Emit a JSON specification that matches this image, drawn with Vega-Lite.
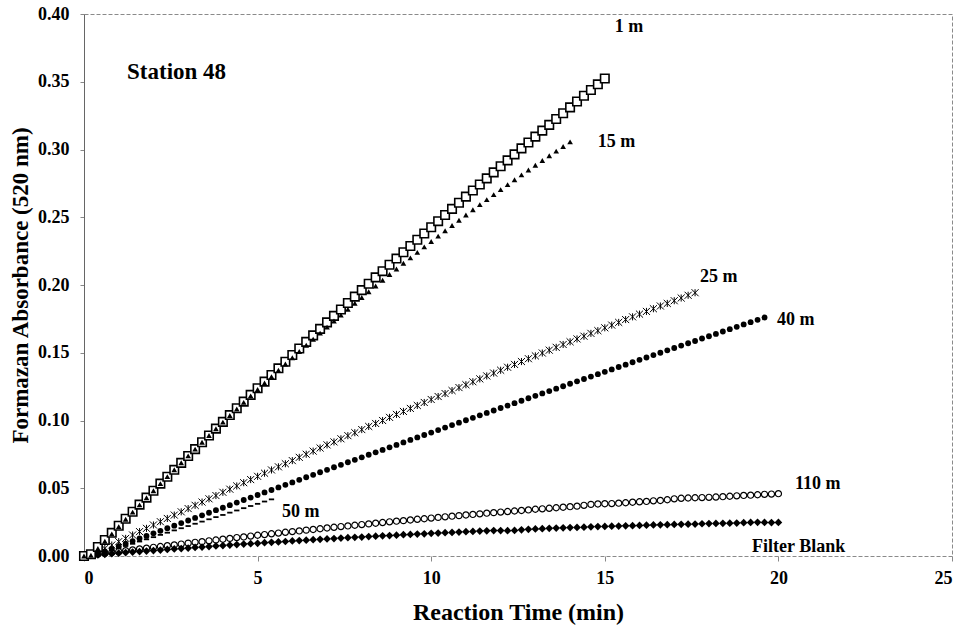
{
  "$schema": "https://vega.github.io/schema/vega-lite/v6.json",
  "width": 868,
  "height": 542,
  "autosize": {"type": "none"},
  "padding": {"left": 84, "top": 14, "right": 19, "bottom": 76},
  "background": "white",
  "config": {
    "view": {"stroke": "#8a8a8a", "strokeDash": [4, 2], "strokeWidth": 1},
    "axis": {"labelFont": "Liberation Serif", "labelFontWeight": "bold", "labelColor": "black", "titleFont": "Liberation Serif", "titleFontWeight": "bold", "titleColor": "black", "grid": false, "tickColor": "#888", "domainColor": "#888"}
  },
  "encoding": {
    "x": {"field": "t", "type": "quantitative", "scale": {"domain": [0, 25], "nice": false, "zero": false},
      "axis": {"title": "Reaction Time (min)", "values": [0, 5, 10, 15, 20, 25], "format": "d", "labelFontSize": 18, "tickSize": 5, "labelPadding": 8, "domain": false, "titleFontSize": 24, "titleX": 434, "titleY": 44, "titleBaseline": "top"}},
    "y": {"field": "v", "type": "quantitative", "scale": {"domain": [0, 0.4], "nice": false, "zero": false},
      "axis": {"title": "Formazan Absorbance (520 nm)", "values": [0, 0.05, 0.1, 0.15, 0.2, 0.25, 0.3, 0.35, 0.4], "format": ".2f", "labelFontSize": 18, "tickSize": 4, "labelPadding": 11, "domain": true, "domainColor": "#666", "titleFontSize": 23, "titleX": -52, "titleY": 271, "titleBaseline": "bottom", "titleAngle": -90}}
  },
  "layer": [
    {
      "data": {"values": [
        {"t":0,"v":0},{"t":0.2,"v":0.0007},{"t":0.4,"v":0.0013},{"t":0.6,"v":0.002},{"t":0.8,"v":0.0026},{"t":1,"v":0.0033},{"t":1.2,"v":0.0039},{"t":1.4,"v":0.0045},{"t":1.6,"v":0.0052},{"t":1.8,"v":0.0058},
        {"t":2,"v":0.0064},{"t":2.2,"v":0.007},{"t":2.4,"v":0.0076},{"t":2.6,"v":0.0082},{"t":2.8,"v":0.0088},{"t":3,"v":0.0095},{"t":3.2,"v":0.0101},{"t":3.4,"v":0.0106},{"t":3.6,"v":0.0112},{"t":3.8,"v":0.0118},
        {"t":4,"v":0.0124},{"t":4.2,"v":0.013},{"t":4.4,"v":0.0136},{"t":4.6,"v":0.0141},{"t":4.8,"v":0.0147},{"t":5,"v":0.0153},{"t":5.2,"v":0.0158},{"t":5.4,"v":0.0164},{"t":5.6,"v":0.0169},{"t":5.8,"v":0.0175},
        {"t":6,"v":0.018},{"t":6.2,"v":0.0185},{"t":6.4,"v":0.0191},{"t":6.6,"v":0.0196},{"t":6.8,"v":0.0201},{"t":7,"v":0.0207},{"t":7.2,"v":0.0212},{"t":7.4,"v":0.0217},{"t":7.6,"v":0.0222},{"t":7.8,"v":0.0227},
        {"t":8,"v":0.0232},{"t":8.2,"v":0.0237},{"t":8.4,"v":0.0242},{"t":8.6,"v":0.0247},{"t":8.8,"v":0.0252},{"t":9,"v":0.0257},{"t":9.2,"v":0.0261},{"t":9.4,"v":0.0266},{"t":9.6,"v":0.0271},{"t":9.8,"v":0.0275},
        {"t":10,"v":0.028},{"t":10.2,"v":0.0285},{"t":10.4,"v":0.0289},{"t":10.6,"v":0.0294},{"t":10.8,"v":0.0298},{"t":11,"v":0.0303},{"t":11.2,"v":0.0307},{"t":11.4,"v":0.0311},{"t":11.6,"v":0.0316},{"t":11.8,"v":0.032},
        {"t":12,"v":0.0324},{"t":12.2,"v":0.0328},{"t":12.4,"v":0.0332},{"t":12.6,"v":0.0336},{"t":12.8,"v":0.034},{"t":13,"v":0.0345},{"t":13.2,"v":0.0348},{"t":13.4,"v":0.0352},{"t":13.6,"v":0.0356},{"t":13.8,"v":0.036},
        {"t":14,"v":0.0364},{"t":14.2,"v":0.0368},{"t":14.4,"v":0.0374},{"t":14.6,"v":0.0381},{"t":14.8,"v":0.0384},{"t":15,"v":0.0386},{"t":15.2,"v":0.0387},{"t":15.4,"v":0.039},{"t":15.6,"v":0.0393},{"t":15.8,"v":0.0397},
        {"t":16,"v":0.04},{"t":16.2,"v":0.0403},{"t":16.4,"v":0.0407},{"t":16.6,"v":0.041},{"t":16.8,"v":0.0415},{"t":17,"v":0.0422},{"t":17.2,"v":0.0426},{"t":17.4,"v":0.0428},{"t":17.6,"v":0.043},{"t":17.8,"v":0.0431},
        {"t":18,"v":0.0433},{"t":18.2,"v":0.0435},{"t":18.4,"v":0.0438},{"t":18.6,"v":0.0441},{"t":18.8,"v":0.0444},{"t":19,"v":0.0447},{"t":19.2,"v":0.0449},{"t":19.4,"v":0.0452},{"t":19.6,"v":0.0455},{"t":19.8,"v":0.0457},{"t":20,"v":0.046}
      ]},
      "mark": {"type": "point", "shape": "circle", "size": 38, "fill": "white", "stroke": "black", "strokeWidth": 1.2, "opacity": 1}
    },
    {
      "data": {"values": [
        {"t":0,"v":0},{"t":0.2,"v":0.0004},{"t":0.4,"v":0.0008},{"t":0.6,"v":0.0012},{"t":0.8,"v":0.0017},{"t":1,"v":0.0021},{"t":1.2,"v":0.0025},{"t":1.4,"v":0.0029},{"t":1.6,"v":0.0033},{"t":1.8,"v":0.0036},
        {"t":2,"v":0.004},{"t":2.2,"v":0.0044},{"t":2.4,"v":0.0048},{"t":2.6,"v":0.0052},{"t":2.8,"v":0.0055},{"t":3,"v":0.0059},{"t":3.2,"v":0.0063},{"t":3.4,"v":0.0066},{"t":3.6,"v":0.007},{"t":3.8,"v":0.0074},
        {"t":4,"v":0.0077},{"t":4.2,"v":0.0081},{"t":4.4,"v":0.0084},{"t":4.6,"v":0.0088},{"t":4.8,"v":0.0091},{"t":5,"v":0.0094},{"t":5.2,"v":0.0098},{"t":5.4,"v":0.0101},{"t":5.6,"v":0.0104},{"t":5.8,"v":0.0107},
        {"t":6,"v":0.0111},{"t":6.2,"v":0.0114},{"t":6.4,"v":0.0117},{"t":6.6,"v":0.012},{"t":6.8,"v":0.0123},{"t":7,"v":0.0126},{"t":7.2,"v":0.0129},{"t":7.4,"v":0.0132},{"t":7.6,"v":0.0135},{"t":7.8,"v":0.0138},
        {"t":8,"v":0.014},{"t":8.2,"v":0.0143},{"t":8.4,"v":0.0146},{"t":8.6,"v":0.0149},{"t":8.8,"v":0.0151},{"t":9,"v":0.0154},{"t":9.2,"v":0.0157},{"t":9.4,"v":0.0159},{"t":9.6,"v":0.0162},{"t":9.8,"v":0.0164},
        {"t":10,"v":0.0167},{"t":10.2,"v":0.0169},{"t":10.4,"v":0.0172},{"t":10.6,"v":0.0174},{"t":10.8,"v":0.0177},{"t":11,"v":0.0179},{"t":11.2,"v":0.0181},{"t":11.4,"v":0.0184},{"t":11.6,"v":0.0186},{"t":11.8,"v":0.0188},
        {"t":12,"v":0.0188},{"t":12.2,"v":0.0187},{"t":12.4,"v":0.0189},{"t":12.6,"v":0.0193},{"t":12.8,"v":0.0197},{"t":13,"v":0.02},{"t":13.2,"v":0.0202},{"t":13.4,"v":0.0204},{"t":13.6,"v":0.0206},{"t":13.8,"v":0.0208},
        {"t":14,"v":0.021},{"t":14.2,"v":0.0211},{"t":14.4,"v":0.0213},{"t":14.6,"v":0.0215},{"t":14.8,"v":0.0217},{"t":15,"v":0.0218},{"t":15.2,"v":0.022},{"t":15.4,"v":0.0221},{"t":15.6,"v":0.0223},{"t":15.8,"v":0.0224},
        {"t":16,"v":0.0226},{"t":16.2,"v":0.0227},{"t":16.4,"v":0.0229},{"t":16.6,"v":0.023},{"t":16.8,"v":0.0231},{"t":17,"v":0.0233},{"t":17.2,"v":0.0234},{"t":17.4,"v":0.0235},{"t":17.6,"v":0.0236},{"t":17.8,"v":0.0238},
        {"t":18,"v":0.0239},{"t":18.2,"v":0.024},{"t":18.4,"v":0.0241},{"t":18.6,"v":0.0242},{"t":18.8,"v":0.0243},{"t":19,"v":0.0246},{"t":19.2,"v":0.0248},{"t":19.4,"v":0.0249},{"t":19.6,"v":0.0248},{"t":19.8,"v":0.0247},{"t":20,"v":0.0248}
      ]},
      "mark": {"type": "point", "shape": "diamond", "size": 60, "filled": true, "color": "black", "opacity": 1}
    },
    {
      "data": {"values": [
        {"t":0,"v":0},{"t":0.2,"v":0},{"t":0.4,"v":0.0008},{"t":0.6,"v":0.0025},{"t":0.8,"v":0.0041},{"t":1,"v":0.0057},{"t":1.2,"v":0.0074},{"t":1.4,"v":0.009},{"t":1.6,"v":0.0107},{"t":1.8,"v":0.0123},
        {"t":2,"v":0.0139},{"t":2.2,"v":0.0156},{"t":2.4,"v":0.0172},{"t":2.6,"v":0.0189},{"t":2.8,"v":0.0205},{"t":3,"v":0.0221},{"t":3.2,"v":0.0238},{"t":3.4,"v":0.0254},{"t":3.6,"v":0.0271},{"t":3.8,"v":0.0287},
        {"t":4,"v":0.0303},{"t":4.2,"v":0.032},{"t":4.4,"v":0.0336},{"t":4.6,"v":0.0353},{"t":4.8,"v":0.0369},{"t":5,"v":0.0385},{"t":5.2,"v":0.0402},{"t":5.4,"v":0.0418}
      ]},
      "mark": {"type": "point", "shape": "M-1,0L1,0", "size": 28, "filled": false, "stroke": "black", "strokeWidth": 1.8, "opacity": 1}
    },
    {
      "data": {"values": [
        {"t":0,"v":0},{"t":0.2,"v":0.0002},{"t":0.4,"v":0.0014},{"t":0.6,"v":0.0034},{"t":0.8,"v":0.0053},{"t":1,"v":0.0072},{"t":1.2,"v":0.0091},{"t":1.4,"v":0.011},{"t":1.6,"v":0.0129},{"t":1.8,"v":0.0148},
        {"t":2,"v":0.0167},{"t":2.2,"v":0.0186},{"t":2.4,"v":0.0205},{"t":2.6,"v":0.0224},{"t":2.8,"v":0.0243},{"t":3,"v":0.0262},{"t":3.2,"v":0.0281},{"t":3.4,"v":0.03},{"t":3.6,"v":0.0319},{"t":3.8,"v":0.0338},
        {"t":4,"v":0.0356},{"t":4.2,"v":0.0375},{"t":4.4,"v":0.0394},{"t":4.6,"v":0.0413},{"t":4.8,"v":0.0431},{"t":5,"v":0.045},{"t":5.2,"v":0.0469},{"t":5.4,"v":0.0487},{"t":5.6,"v":0.0506},{"t":5.8,"v":0.0525},
        {"t":6,"v":0.0543},{"t":6.2,"v":0.0562},{"t":6.4,"v":0.0581},{"t":6.6,"v":0.0599},{"t":6.8,"v":0.0618},{"t":7,"v":0.0636},{"t":7.2,"v":0.0655},{"t":7.4,"v":0.0673},{"t":7.6,"v":0.0692},{"t":7.8,"v":0.071},
        {"t":8,"v":0.0728},{"t":8.2,"v":0.0747},{"t":8.4,"v":0.0765},{"t":8.6,"v":0.0783},{"t":8.8,"v":0.0802},{"t":9,"v":0.082},{"t":9.2,"v":0.0838},{"t":9.4,"v":0.0857},{"t":9.6,"v":0.0875},{"t":9.8,"v":0.0893},
        {"t":10,"v":0.0911},{"t":10.2,"v":0.0929},{"t":10.4,"v":0.0948},{"t":10.6,"v":0.0966},{"t":10.8,"v":0.0984},{"t":11,"v":0.1002},{"t":11.2,"v":0.102},{"t":11.4,"v":0.1038},{"t":11.6,"v":0.1056},{"t":11.8,"v":0.1074},
        {"t":12,"v":0.1092},{"t":12.2,"v":0.111},{"t":12.4,"v":0.1128},{"t":12.6,"v":0.1146},{"t":12.8,"v":0.1164},{"t":13,"v":0.1182},{"t":13.2,"v":0.12},{"t":13.4,"v":0.1217},{"t":13.6,"v":0.1235},{"t":13.8,"v":0.1253},
        {"t":14,"v":0.1271},{"t":14.2,"v":0.1289},{"t":14.4,"v":0.1306},{"t":14.6,"v":0.1324},{"t":14.8,"v":0.1342},{"t":15,"v":0.1359},{"t":15.2,"v":0.1377},{"t":15.4,"v":0.1395},{"t":15.6,"v":0.1412},{"t":15.8,"v":0.143},
        {"t":16,"v":0.1448},{"t":16.2,"v":0.1465},{"t":16.4,"v":0.1483},{"t":16.6,"v":0.15},{"t":16.8,"v":0.1518},{"t":17,"v":0.1535},{"t":17.2,"v":0.1553},{"t":17.4,"v":0.157},{"t":17.6,"v":0.1587},{"t":17.8,"v":0.1605},
        {"t":18,"v":0.1622},{"t":18.2,"v":0.1639},{"t":18.4,"v":0.1657},{"t":18.6,"v":0.1674},{"t":18.8,"v":0.1691},{"t":19,"v":0.1709},{"t":19.2,"v":0.1726},{"t":19.4,"v":0.1743},{"t":19.6,"v":0.176}
      ]},
      "mark": {"type": "point", "shape": "circle", "size": 34, "filled": true, "color": "black", "opacity": 1}
    },
    {
      "data": {"values": [
        {"t":0,"v":0},{"t":0.2,"v":0.0006},{"t":0.4,"v":0.0031},{"t":0.6,"v":0.0056},{"t":0.8,"v":0.0081},{"t":1,"v":0.0106},{"t":1.2,"v":0.013},{"t":1.4,"v":0.0155},{"t":1.6,"v":0.018},{"t":1.8,"v":0.0204},
        {"t":2,"v":0.0229},{"t":2.2,"v":0.0253},{"t":2.4,"v":0.0277},{"t":2.6,"v":0.0302},{"t":2.8,"v":0.0326},{"t":3,"v":0.035},{"t":3.2,"v":0.0374},{"t":3.4,"v":0.0398},{"t":3.6,"v":0.0422},{"t":3.8,"v":0.0446},
        {"t":4,"v":0.047},{"t":4.2,"v":0.0493},{"t":4.4,"v":0.0517},{"t":4.6,"v":0.0541},{"t":4.8,"v":0.0564},{"t":5,"v":0.0588},{"t":5.2,"v":0.0611},{"t":5.4,"v":0.0635},{"t":5.6,"v":0.0658},{"t":5.8,"v":0.0681},
        {"t":6,"v":0.0704},{"t":6.2,"v":0.0728},{"t":6.4,"v":0.0751},{"t":6.6,"v":0.0774},{"t":6.8,"v":0.0797},{"t":7,"v":0.082},{"t":7.2,"v":0.0842},{"t":7.4,"v":0.0865},{"t":7.6,"v":0.0888},{"t":7.8,"v":0.091},
        {"t":8,"v":0.0933},{"t":8.2,"v":0.0956},{"t":8.4,"v":0.0978},{"t":8.6,"v":0.1},{"t":8.8,"v":0.1023},{"t":9,"v":0.1045},{"t":9.2,"v":0.1067},{"t":9.4,"v":0.1089},{"t":9.6,"v":0.1111},{"t":9.8,"v":0.1133},
        {"t":10,"v":0.1155},{"t":10.2,"v":0.1177},{"t":10.4,"v":0.1199},{"t":10.6,"v":0.1221},{"t":10.8,"v":0.1243},{"t":11,"v":0.1264},{"t":11.2,"v":0.1286},{"t":11.4,"v":0.1307},{"t":11.6,"v":0.1329},{"t":11.8,"v":0.135},
        {"t":12,"v":0.1371},{"t":12.2,"v":0.1393},{"t":12.4,"v":0.1414},{"t":12.6,"v":0.1435},{"t":12.8,"v":0.1456},{"t":13,"v":0.1477},{"t":13.2,"v":0.1498},{"t":13.4,"v":0.1519},{"t":13.6,"v":0.154},{"t":13.8,"v":0.1561},
        {"t":14,"v":0.1581},{"t":14.2,"v":0.1602},{"t":14.4,"v":0.1622},{"t":14.6,"v":0.1643},{"t":14.8,"v":0.1663},{"t":15,"v":0.1684},{"t":15.2,"v":0.1704},{"t":15.4,"v":0.1724},{"t":15.6,"v":0.1745},{"t":15.8,"v":0.1765},
        {"t":16,"v":0.1785},{"t":16.2,"v":0.1805},{"t":16.4,"v":0.1825},{"t":16.6,"v":0.1845},{"t":16.8,"v":0.1864},{"t":17,"v":0.1884},{"t":17.2,"v":0.1904},{"t":17.4,"v":0.1924},{"t":17.6,"v":0.1943}
      ]},
      "mark": {"type": "point", "shape": "M-1,-1L1,1M-1,1L1,-1M0,-1L0,1", "size": 50, "filled": false, "stroke": "black", "strokeWidth": 1, "opacity": 1}
    },
    {
      "data": {"values": [
        {"t":0,"v":0},{"t":0.2,"v":0.0013},{"t":0.4,"v":0.0066},{"t":0.6,"v":0.0118},{"t":0.8,"v":0.0171},{"t":1,"v":0.0223},{"t":1.2,"v":0.0275},{"t":1.4,"v":0.0327},{"t":1.6,"v":0.0379},{"t":1.8,"v":0.0431},
        {"t":2,"v":0.0482},{"t":2.2,"v":0.0534},{"t":2.4,"v":0.0585},{"t":2.6,"v":0.0636},{"t":2.8,"v":0.0687},{"t":3,"v":0.0738},{"t":3.2,"v":0.0789},{"t":3.4,"v":0.0839},{"t":3.6,"v":0.0889},{"t":3.8,"v":0.094},
        {"t":4,"v":0.099},{"t":4.2,"v":0.104},{"t":4.4,"v":0.109},{"t":4.6,"v":0.1139},{"t":4.8,"v":0.1189},{"t":5,"v":0.1238},{"t":5.2,"v":0.1287},{"t":5.4,"v":0.1336},{"t":5.6,"v":0.1385},{"t":5.8,"v":0.1434},
        {"t":6,"v":0.1483},{"t":6.2,"v":0.1531},{"t":6.4,"v":0.158},{"t":6.6,"v":0.1628},{"t":6.8,"v":0.1676},{"t":7,"v":0.1724},{"t":7.2,"v":0.1772},{"t":7.4,"v":0.1819},{"t":7.6,"v":0.1867},{"t":7.8,"v":0.1914},
        {"t":8,"v":0.1962},{"t":8.2,"v":0.2009},{"t":8.4,"v":0.2056},{"t":8.6,"v":0.2102},{"t":8.8,"v":0.2149},{"t":9,"v":0.2195},{"t":9.2,"v":0.2242},{"t":9.4,"v":0.2288},{"t":9.6,"v":0.2334},{"t":9.8,"v":0.238},
        {"t":10,"v":0.2426},{"t":10.2,"v":0.2471},{"t":10.4,"v":0.2517},{"t":10.6,"v":0.2562},{"t":10.8,"v":0.2607},{"t":11,"v":0.2652},{"t":11.2,"v":0.2697},{"t":11.4,"v":0.2742},{"t":11.6,"v":0.2787},{"t":11.8,"v":0.2831},
        {"t":12,"v":0.2876},{"t":12.2,"v":0.292},{"t":12.4,"v":0.2964},{"t":12.6,"v":0.3008},{"t":12.8,"v":0.3052},{"t":13,"v":0.3095},{"t":13.2,"v":0.3139},{"t":13.4,"v":0.3182},{"t":13.6,"v":0.3225},{"t":13.8,"v":0.3268},
        {"t":14,"v":0.3311},{"t":14.2,"v":0.3354},{"t":14.4,"v":0.3397},{"t":14.6,"v":0.3439},{"t":14.8,"v":0.3481},{"t":15,"v":0.3524}
      ]},
      "mark": {"type": "point", "shape": "square", "size": 72, "fill": "white", "stroke": "black", "strokeWidth": 1.6, "opacity": 1}
    },
    {
      "data": {"values": [
        {"t":0,"v":0},{"t":0.2,"v":0.0005},{"t":0.4,"v":0.0055},{"t":0.6,"v":0.0109},{"t":0.8,"v":0.0163},{"t":1,"v":0.0217},{"t":1.2,"v":0.0271},{"t":1.4,"v":0.0324},{"t":1.6,"v":0.0377},{"t":1.8,"v":0.043},
        {"t":2,"v":0.0482},{"t":2.2,"v":0.0534},{"t":2.4,"v":0.0586},{"t":2.6,"v":0.0637},{"t":2.8,"v":0.0688},{"t":3,"v":0.0739},{"t":3.2,"v":0.0789},{"t":3.4,"v":0.0839},{"t":3.6,"v":0.0889},{"t":3.8,"v":0.0939},
        {"t":4,"v":0.0988},{"t":4.2,"v":0.1037},{"t":4.4,"v":0.1085},{"t":4.6,"v":0.1134},{"t":4.8,"v":0.1182},{"t":5,"v":0.1229},{"t":5.2,"v":0.1277},{"t":5.4,"v":0.1324},{"t":5.6,"v":0.1371},{"t":5.8,"v":0.1417},
        {"t":6,"v":0.1463},{"t":6.2,"v":0.1509},{"t":6.4,"v":0.1555},{"t":6.6,"v":0.16},{"t":6.8,"v":0.1645},{"t":7,"v":0.1689},{"t":7.2,"v":0.1734},{"t":7.4,"v":0.1778},{"t":7.6,"v":0.1821},{"t":7.8,"v":0.1865},
        {"t":8,"v":0.1908},{"t":8.2,"v":0.195},{"t":8.4,"v":0.1993},{"t":8.6,"v":0.2035},{"t":8.8,"v":0.2077},{"t":9,"v":0.2118},{"t":9.2,"v":0.216},{"t":9.4,"v":0.22},{"t":9.6,"v":0.2241},{"t":9.8,"v":0.2281},
        {"t":10,"v":0.2321},{"t":10.2,"v":0.2361},{"t":10.4,"v":0.24},{"t":10.6,"v":0.2439},{"t":10.8,"v":0.2478},{"t":11,"v":0.2517},{"t":11.2,"v":0.2555},{"t":11.4,"v":0.2593},{"t":11.6,"v":0.263},{"t":11.8,"v":0.2667},
        {"t":12,"v":0.2704},{"t":12.2,"v":0.2741},{"t":12.4,"v":0.2777},{"t":12.6,"v":0.2813},{"t":12.8,"v":0.2849},{"t":13,"v":0.2884},{"t":13.2,"v":0.2919},{"t":13.4,"v":0.2954},{"t":13.6,"v":0.2988},{"t":13.8,"v":0.3022},
        {"t":14,"v":0.3056}
      ]},
      "mark": {"type": "point", "shape": "triangle-up", "size": 32, "filled": true, "color": "black", "opacity": 1}
    },
    {
      "data": {"values": [
        {"label": "1 m", "t": 15.29, "v": 0.3904},
        {"label": "15 m", "t": 14.8, "v": 0.3055},
        {"label": "25 m", "t": 17.74, "v": 0.2059},
        {"label": "40 m", "t": 19.96, "v": 0.1742},
        {"label": "110 m", "t": 20.48, "v": 0.0531},
        {"label": "50 m", "t": 5.7, "v": 0.0325},
        {"label": "Filter Blank", "t": 19.24, "v": 0.0066}
      ]},
      "mark": {"type": "text", "align": "left", "baseline": "middle", "font": "Liberation Serif", "fontWeight": "bold", "fontSize": 18, "color": "black"},
      "encoding": {"text": {"field": "label", "type": "nominal"}}
    },
    {
      "data": {"values": [{"label": "Station 48", "t": 1.24, "v": 0.357}]},
      "mark": {"type": "text", "align": "left", "baseline": "middle", "font": "Liberation Serif", "fontWeight": "bold", "fontSize": 23, "color": "black"},
      "encoding": {"text": {"field": "label", "type": "nominal"}}
    }
  ]
}
